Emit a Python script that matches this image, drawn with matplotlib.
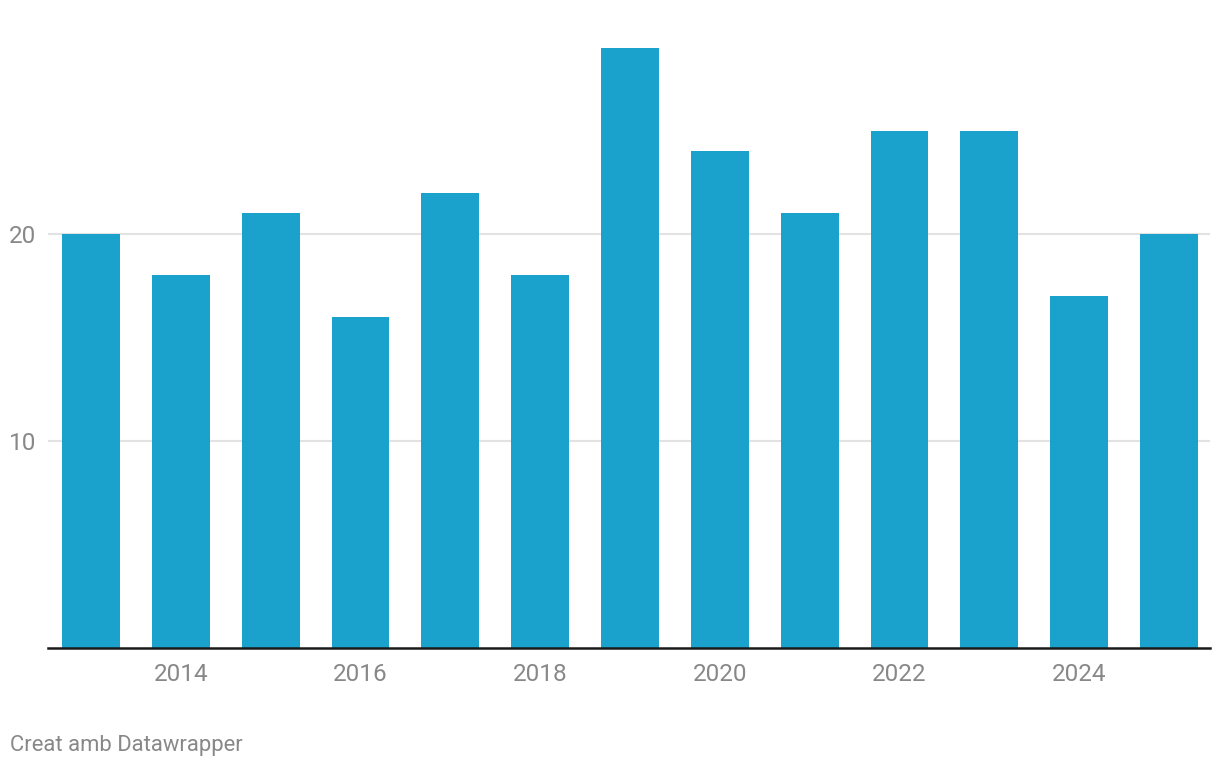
import matplotlib.pyplot as plt

years = [2013, 2014, 2015, 2016, 2017, 2018, 2019, 2020, 2021, 2022, 2023, 2024, 2025]
values = [20, 18, 21, 16, 22, 18, 29, 24, 21, 25, 25, 17, 20]
xticks = [2014, 2016, 2018, 2020, 2022, 2024]
yticks = [10, 20]

plt.rcParams['font.family'] = ['Roboto', 'DejaVu Sans']

fig = plt.figure(figsize=(12.2, 7.7), dpi=100)
ax = fig.add_axes([48 / 1220, 122 / 770, 1162 / 1220, 611 / 770])

ax.bar(years, values, width=0.644, color='#1aa1cc', zorder=2)
ax.set_xlim(2012.522, 2025.456)
ax.set_ylim(0, 29.52)

ax.set_yticks(yticks)
ax.set_yticklabels([str(t) for t in yticks])
ax.set_xticks(xticks)
ax.set_xticklabels([str(t) for t in xticks])
ax.grid(axis='y', color='#e2e2e2', linewidth=1.5, zorder=0)
ax.tick_params(axis='both', length=0, labelsize=17.5, labelcolor='#888888')
ax.tick_params(axis='y', pad=8.6)
ax.tick_params(axis='x', pad=11)

for side in ['top', 'right', 'left']:
    ax.spines[side].set_visible(False)
ax.spines['bottom'].set_color('#1a1a1a')
ax.spines['bottom'].set_linewidth(1.8)
ax.spines['bottom'].set_zorder(3)

fig.text(10 / 1220, 1 - 746 / 770, 'Creat amb Datawrapper', fontsize=15.8,
         color='#888888', va='center', ha='left')

fig.savefig('out.png', dpi=100)
